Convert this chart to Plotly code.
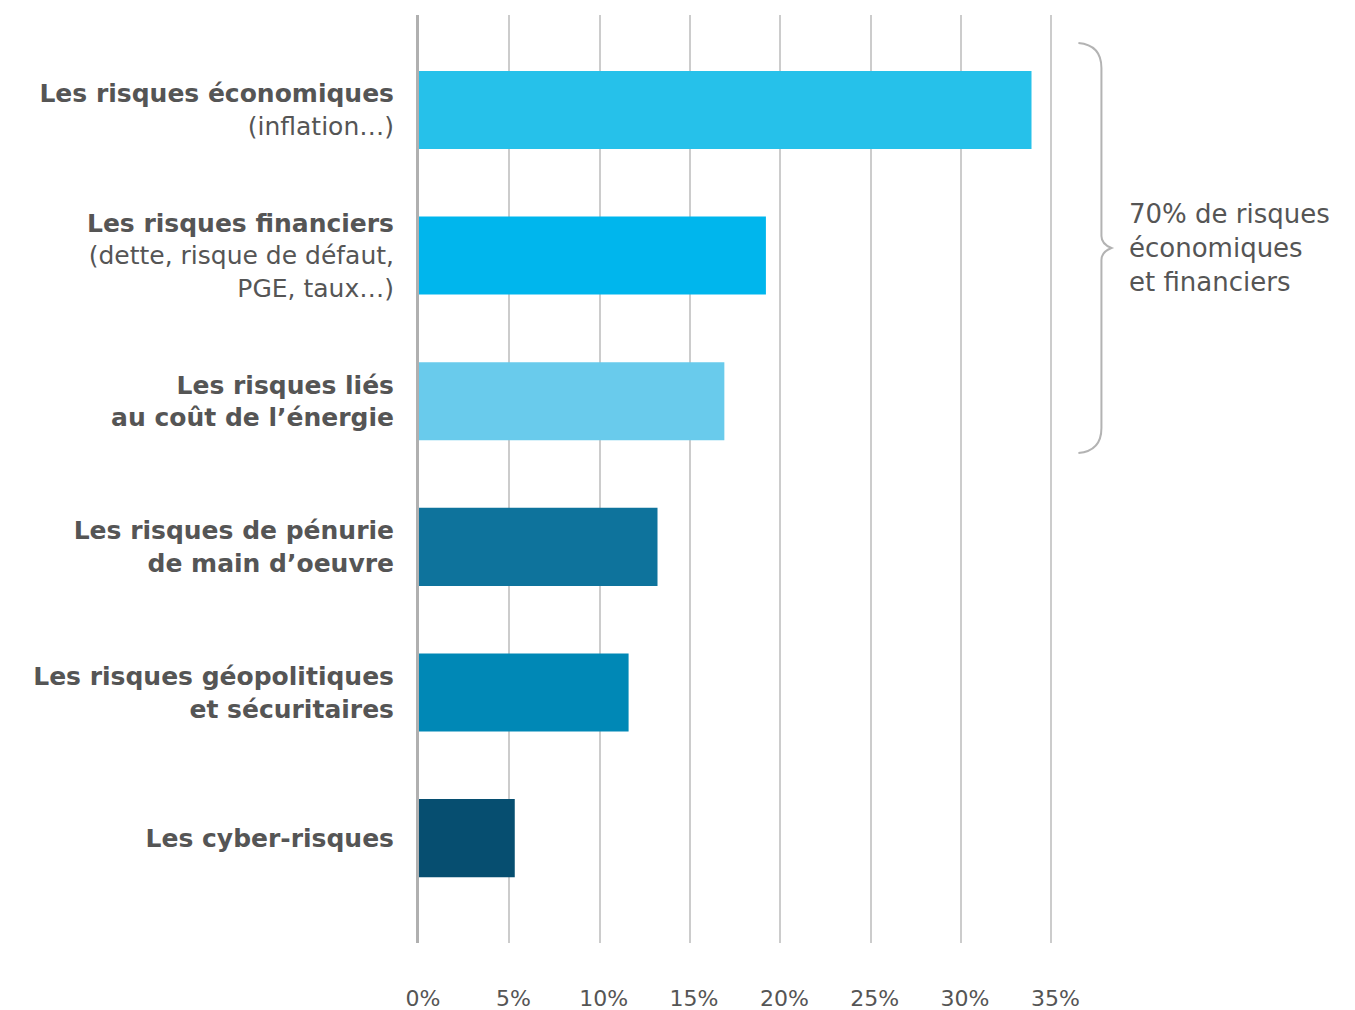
import plotly.graph_objects as go

categories = [
    "<b>Les risques économiques</b><br>(inflation…)",
    "<b>Les risques financiers</b><br>(dette, risque de défaut,<br>PGE, taux…)",
    "<b>Les risques liés</b><br><b>au coût de l’énergie</b>",
    "<b>Les risques de pénurie</b><br><b>de main d’oeuvre</b>",
    "<b>Les risques géopolitiques</b><br><b>et sécuritaires</b>",
    "<b>Les cyber-risques</b>",
]
values = [33.9, 19.2, 16.9, 13.2, 11.6, 5.3]
colors = ["#26c1ea", "#00b6ed", "#69cbec", "#0e739c", "#0088b6", "#064e70"]
tick_vals = [0, 5, 10, 15, 20, 25, 30, 35]
tick_text = ["0%", "5%", "10%", "15%", "20%", "25%", "30%", "35%"]
bracket_text = "70% de risques<br>économiques<br>et financiers"

OFF = 8  # page body margin
W, H = 1355 - OFF, 1010 - OFF
L, T, B = 419 - OFF, 15 - OFF, 67
plot_w = 635.6
R = W - L - plot_w
plot_h = H - T - B

def px_x(p):
    return (p - OFF - L) / plot_w

def px_y(p):
    return (H - B - (p - OFF)) / plot_h

FONT = "DejaVu Sans"
GREY = "#555555"

fig = go.Figure()
fig.add_trace(go.Bar(
    x=values, y=categories, orientation="h",
    marker=dict(color=colors, line=dict(width=0)),
    width=0.536, hoverinfo="x+y",
))

path = (
    f"M {px_x(1078)},{px_y(43)} "
    f"Q {px_x(1101)},{px_y(45)} {px_x(1101)},{px_y(68)} "
    f"L {px_x(1101)},{px_y(236)} "
    f"Q {px_x(1101)},{px_y(244)} {px_x(1111)},{px_y(248)} "
    f"Q {px_x(1101)},{px_y(252)} {px_x(1101)},{px_y(260)} "
    f"L {px_x(1101)},{px_y(428)} "
    f"Q {px_x(1101)},{px_y(451)} {px_x(1078)},{px_y(453)}"
)
fig.add_shape(type="path", path=path, xref="paper", yref="paper",
              line=dict(color="#b3b3b3", width=2))

fig.add_annotation(
    text=bracket_text, xref="paper", yref="paper",
    x=px_x(1127), y=px_y(248), xanchor="left", yanchor="middle",
    align="left", showarrow=False,
    font=dict(family=FONT, size=26, color=GREY),
)

fig.update_layout(
    width=W, height=H,
    margin=dict(l=L, r=R, t=T, b=B, autoexpand=False),
    paper_bgcolor="white", plot_bgcolor="white",
    showlegend=False,
    font=dict(family=FONT, color=GREY),
)
fig.update_xaxes(
    range=[0, 35.2], tickvals=tick_vals, ticktext=tick_text,
    showgrid=True, gridcolor="#cccccc", gridwidth=2,
    zeroline=False, showline=False, ticks="",
    tickfont=dict(family=FONT, size=22, color=GREY),
    ticklabelstandoff=40, ticklabelshift=4, automargin=False,
)
fig.update_yaxes(
    type="category", categoryorder="array", categoryarray=categories,
    range=[5.72, -0.652],
    showgrid=False, zeroline=False,
    showline=True, linecolor="#b0b0b0", linewidth=3,
    ticks="", ticklabelstandoff=17, automargin=False,
    tickfont=dict(family=FONT, size=25, color=GREY),
)

fig.write_html("out.html")
